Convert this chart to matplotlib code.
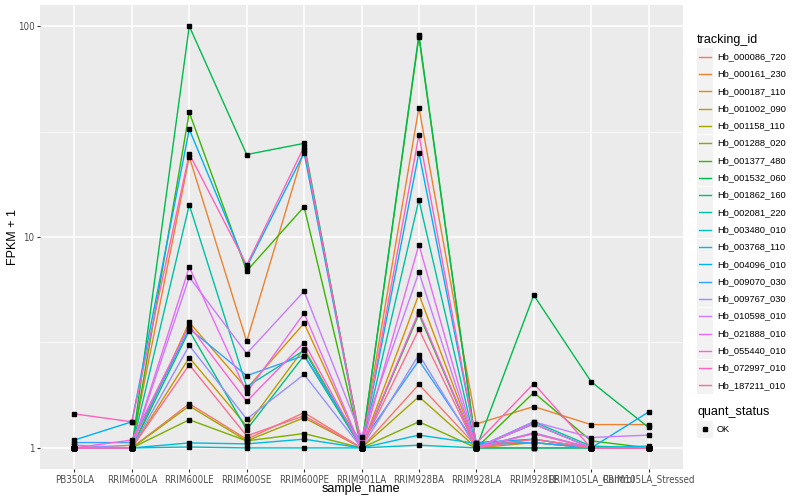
import os
import numpy as np
import matplotlib
matplotlib.use("Agg")
from matplotlib import pyplot as plt
from matplotlib import font_manager
from matplotlib.lines import Line2D
from matplotlib.patches import Rectangle
from matplotlib.ticker import FixedLocator, NullFormatter

plt.rcParams['font.family'] = ['Liberation Sans', 'DejaVu Sans']

# a condensed face for the crowded tick labels, if one is installed
narrow_file = None
for want in ["LiberationSansNarrow-Regular", "DejaVuSansCondensed.ttf"]:
    for f in font_manager.findSystemFonts():
        if want in os.path.basename(f):
            narrow_file = f
            break
    if narrow_file:
        break
if narrow_file:
    tick_font = font_manager.FontProperties(fname=narrow_file, size=7.0)
else:
    tick_font = font_manager.FontProperties(family="Liberation Sans", size=5.5)

samples = ["PB350LA", "RRIM600LA", "RRIM600LE", "RRIM600SE", "RRIM600PE",
           "RRIM901LA", "RRIM928BA", "RRIM928LA", "RRIM928LE",
           "RRIM105LA_Control", "RRIM105LA_Stressed"]

tracking_ids = ["Hb_000086_720", "Hb_000161_230", "Hb_000187_110", "Hb_001002_090",
                "Hb_001158_110", "Hb_001288_020", "Hb_001377_480", "Hb_001532_060",
                "Hb_001862_160", "Hb_002081_220", "Hb_003480_010", "Hb_003768_110",
                "Hb_004096_010", "Hb_009070_030", "Hb_009767_030", "Hb_010598_010",
                "Hb_021888_010", "Hb_055440_010", "Hb_072997_010", "Hb_187211_010"]

# ggplot hue palette, 20 levels
colors = ["#F8766D", "#EA8331", "#D89000", "#C09B00", "#A3A500", "#7CAE00",
          "#39B600", "#00BB4E", "#00BF7D", "#00C1A3", "#00BFC4", "#00BAE0",
          "#00B0F6", "#35A2FF", "#9590FF", "#C77CFF", "#E76BF3", "#FA62DB",
          "#FF62BC", "#FF6C91"]

# FPKM + 1 per tracking id, one value per sample
fpkm = [
    [1.0, 1.0, 1.62, 1.10, 1.47, 1.0, 2.0, 1.02, 1.10, 1.0, 1.0],
    [1.0, 1.03, 24.0, 3.2, 25.9, 1.03, 41.1, 1.30, 1.57, 1.29, 1.29],
    [1.0, 1.0, 3.94, 1.91, 3.9, 1.0, 5.35, 1.01, 1.17, 1.0, 1.0],
    [1.0, 1.0, 2.68, 1.27, 2.96, 1.0, 4.3, 1.0, 1.06, 1.0, 1.0],
    [1.0, 1.0, 1.58, 1.08, 1.39, 1.0, 1.75, 1.0, 1.0, 1.0, 1.0],
    [1.0, 1.0, 1.36, 1.08, 1.17, 1.0, 1.33, 1.0, 1.0, 1.0, 1.0],
    [1.0, 1.0, 39.0, 6.9, 13.9, 1.0, 88.5, 1.0, 1.83, 1.08, 1.0],
    [1.0, 1.0, 100.0, 24.6, 27.8, 1.0, 91.0, 1.0, 5.3, 2.06, 1.25],
    [1.0, 1.0, 3.6, 1.22, 2.74, 1.0, 4.35, 1.0, 1.30, 1.0, 1.0],
    [1.0, 1.0, 14.2, 1.95, 2.9, 1.0, 15.0, 1.0, 1.33, 1.02, 1.0],
    [1.0, 1.0, 1.01, 1.0, 1.0, 1.0, 1.03, 1.0, 1.0, 1.0, 1.0],
    [1.0, 1.0, 1.056, 1.045, 1.10, 1.0, 1.15, 1.05, 1.06, 1.0, 1.02],
    [1.09, 1.33, 32.4, 7.2, 25.1, 1.0, 25.1, 1.06, 1.10, 1.0, 1.48],
    [1.06, 1.06, 3.68, 2.2, 2.74, 1.06, 2.6, 1.03, 1.06, 1.0, 1.0],
    [1.03, 1.0, 3.06, 1.37, 2.23, 1.0, 2.77, 1.0, 1.18, 1.0, 1.0],
    [1.0, 1.0, 6.45, 2.8, 5.53, 1.13, 6.8, 1.0, 1.33, 1.12, 1.15],
    [1.0, 1.0, 7.2, 1.83, 4.35, 1.0, 9.2, 1.0, 1.30, 1.0, 1.0],
    [1.0, 1.09, 3.8, 1.66, 3.16, 1.0, 4.44, 1.0, 1.17, 1.0, 1.0],
    [1.45, 1.33, 24.8, 7.36, 26.8, 1.0, 30.5, 1.05, 2.02, 1.0, 1.0],
    [1.0, 1.0, 2.48, 1.14, 1.42, 1.0, 3.65, 1.0, 1.10, 1.0, 1.0],
]

W, H = 800, 500
fig = plt.figure(figsize=(8, 5), dpi=100)
# panel in pixels: x 40..683, y 5..469
ax = fig.add_axes([40 / W, 1 - 469 / H, (683 - 40) / W, (469 - 5) / H])
ax.set_facecolor("#EBEBEB")
for s in ax.spines.values():
    s.set_visible(False)

x = np.arange(len(samples))
for vals, col in zip(fpkm, colors):
    ax.plot(x, vals, color=col, lw=1.0, zorder=3)
for vals in fpkm:
    ax.plot(x, vals, ls="none", marker="s", ms=2.7, color="black", zorder=4)

ax.set_yscale("log")
ax.set_ylim(10 ** -0.1, 10 ** 2.1)
ax.set_xlim(-0.6, len(samples) - 0.4)
ax.yaxis.set_major_locator(FixedLocator([1, 10, 100]))
ax.yaxis.set_minor_locator(FixedLocator([10 ** 0.5, 10 ** 1.5]))
ax.yaxis.set_minor_formatter(NullFormatter())
ax.set_yticklabels(["1", "10", "100"])
ax.set_xticks(x)
ax.set_xticklabels(samples)
ax.grid(True, which="major", color="white", lw=1.1, zorder=0)
ax.grid(True, which="minor", axis="y", color="white", lw=0.5, zorder=0)
ax.set_axisbelow(True)
ax.tick_params(axis="both", which="major", length=2.5, width=0.8, color="#333333",
               labelcolor="#4D4D4D", pad=1.5)
ax.tick_params(axis="y", which="minor", length=0)
for lab in ax.get_xticklabels() + ax.get_yticklabels():
    lab.set_fontproperties(tick_font)

# axis titles
fig.text(361 / W, 1 - 489 / H, "sample_name", fontsize=9, ha="center", va="center")
fig.text(13 / W, 1 - 237 / H, "FPKM + 1", fontsize=9, ha="center", va="center",
         rotation=90)

# legend drawn in figure pixels
def fy(py):
    return 1 - py / H

fig.text(697 / W, fy(40), "tracking_id", fontsize=9, va="center", ha="left")
for i, (tid, col) in enumerate(zip(tracking_ids, colors)):
    cy = 56.7 + i * 17.3
    fig.add_artist(Rectangle((697 / W, fy(cy + 8.5)), 16 / W, 17 / H,
                             transform=fig.transFigure, facecolor="#F2F2F2",
                             edgecolor="none"))
    fig.add_artist(Line2D([699 / W, 711 / W], [fy(cy), fy(cy)],
                          transform=fig.transFigure, color=col, lw=1.0))
    fig.text(717 / W, fy(cy), tid, fontsize=6.7, va="center", ha="left")

fig.text(697 / W, fy(412), "quant_status", fontsize=9, va="center", ha="left")
fig.add_artist(Rectangle((697 / W, fy(429 + 8.5)), 16 / W, 17 / H,
                         transform=fig.transFigure, facecolor="#F2F2F2",
                         edgecolor="none"))
fig.add_artist(Line2D([705 / W], [fy(429)], transform=fig.transFigure,
                      ls="none", marker="s", ms=2.7, color="black"))
fig.text(717 / W, fy(429), "OK", fontsize=6.7, va="center", ha="left")

fig.savefig("out.png", dpi=100)
